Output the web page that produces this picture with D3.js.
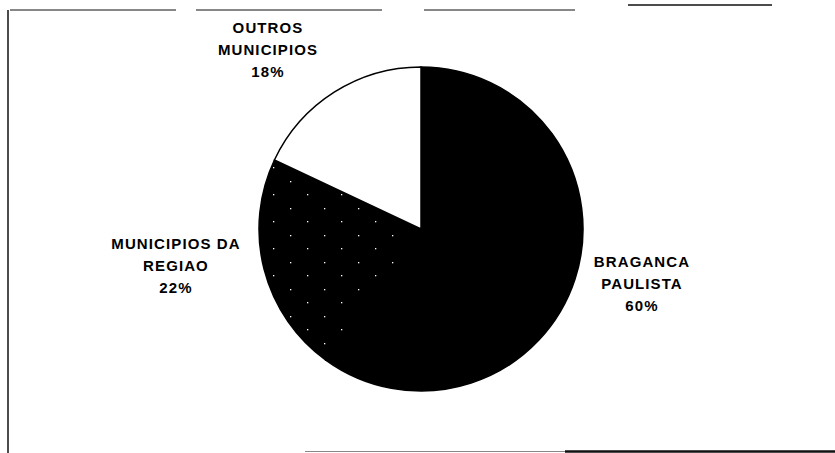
<!DOCTYPE html>
<html>
<head>
<meta charset="utf-8">
<script src="https://cdn.jsdelivr.net/npm/d3@7"></script>
<style>
  body { margin: 0; background: #fff; }
  text { font-family: Arial, "Liberation Sans", sans-serif; font-weight: bold; }
</style>
</head>
<body>
<div id="chart"></div>
<script>
var width = 835, height = 453;

// data
var categories = ["BRAGANCA PAULISTA", "MUNICIPIOS DA REGIAO", "OUTROS MUNICIPIOS"];
var values = [60, 22, 18];
var labelLines = [["BRAGANCA", "PAULISTA"], ["MUNICIPIOS DA", "REGIAO"], ["OUTROS", "MUNICIPIOS"]];
var fills = ["#000", "url(#dots)", "#fff"];
var labelPos = [[642, 267], [176, 249], [268, 33]];

var cx = 421, cy = 229, r = 162;

var svg = d3.select("#chart").append("svg")
  .attr("width", width)
  .attr("height", height);

// sparse white dots for the second slice
var pat = svg.append("defs").append("pattern")
  .attr("id", "dots")
  .attr("patternUnits", "userSpaceOnUse")
  .attr("width", 34).attr("height", 27);
pat.append("rect").attr("width", 34).attr("height", 27).attr("fill", "#000");
pat.append("rect").attr("x", 5).attr("y", 6).attr("width", 1.3).attr("height", 1.3).attr("fill", "#fff");
pat.append("rect").attr("x", 22).attr("y", 19).attr("width", 1.3).attr("height", 1.3).attr("fill", "#fff");

// frame bits, scanned page look
var frame = svg.append("g").attr("stroke", "#111").attr("fill", "none");
frame.append("line").attr("x1", 8).attr("y1", 10).attr("x2", 8).attr("y2", 453).attr("stroke-width", 1.5);
[[10, 176], [196, 382], [424, 575]].forEach(function(s) {
  frame.append("line").attr("x1", s[0]).attr("y1", 10).attr("x2", s[1]).attr("y2", 10).attr("stroke-width", 1.2);
});
frame.append("line").attr("x1", 628).attr("y1", 5).attr("x2", 772).attr("y2", 5).attr("stroke-width", 1.5);
frame.append("line").attr("x1", 305).attr("y1", 451.5).attr("x2", 565).attr("y2", 451.5).attr("stroke", "#888").attr("stroke-width", 1);
frame.append("line").attr("x1", 565).attr("y1", 451.5).attr("x2", 835).attr("y2", 451.5).attr("stroke-width", 2.5);

var data = categories.map(function(c, i) { return {name: c, value: values[i], i: i}; });

var pie = d3.pie().sort(null).value(function(d) { return d.value; });
var arc = d3.arc().innerRadius(0).outerRadius(r);

var g = svg.append("g").attr("transform", "translate(" + cx + "," + cy + ")");

g.selectAll("path")
  .data(pie(data))
  .enter()
  .append("path")
  .attr("d", arc)
  .attr("fill", function(d) { return fills[d.data.i]; })
  .attr("stroke", "#000")
  .attr("stroke-width", 1.5);

var labels = svg.append("g").selectAll("text")
  .data(data)
  .enter()
  .append("text")
  .attr("text-anchor", "middle")
  .attr("font-size", 15)
  .attr("letter-spacing", 1.1)
  .attr("fill", "#000")
  .attr("transform", function(d) { return "translate(" + labelPos[d.i][0] + "," + labelPos[d.i][1] + ")"; });

labels.each(function(d) {
  var t = d3.select(this);
  var lines = labelLines[d.i].concat([d.value + "%"]);
  lines.forEach(function(l, k) {
    t.append("tspan").attr("x", 0).attr("y", k * 22).text(l);
  });
});
</script>
</body>
</html>
